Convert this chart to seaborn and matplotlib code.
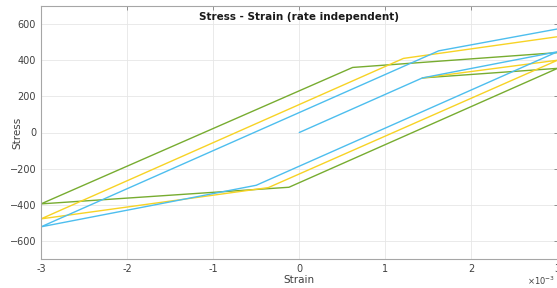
import numpy as np
import pandas as pd
import matplotlib
matplotlib.use("Agg")
import matplotlib.pyplot as plt
import seaborn as sns
from matplotlib.ticker import FuncFormatter

# Data (strain in absolute units, stress)
blue_strain = [0.0, 1.43e-3, 3.0e-3, -0.5e-3, -3.0e-3, 1.62e-3, 3.0e-3]
blue_stress = [0, 302, 447, -292, -522, 452, 573]
yellow_strain = [1.43e-3, 3.0e-3, -0.36e-3, -3.0e-3, 1.21e-3, 3.0e-3]
yellow_stress = [302, 400, -305, -478, 410, 530]
green_strain = [1.43e-3, 3.0e-3, -0.12e-3, -3.0e-3, 0.62e-3, 3.0e-3]
green_stress = [302, 355, -303, -395, 360, 442]

series_names = ["green", "yellow", "blue"]
colors = {"green": "#77AC30", "yellow": "#F7D325", "blue": "#4DBEEE"}

frames = []
for name, xs, ys in [("green", green_strain, green_stress),
                     ("yellow", yellow_strain, yellow_stress),
                     ("blue", blue_strain, blue_stress)]:
    frames.append(pd.DataFrame({"Strain": xs, "Stress": ys, "series": name,
                                "order": range(len(xs))}))
df = pd.concat(frames, ignore_index=True)

sns.set_style("white")
plt.rcParams['font.family'] = ['DejaVu Sans']

fig = plt.figure(figsize=(5.57, 2.88), dpi=100)
ax = fig.add_axes([41/557, 1-259/288, 1-41/557+0.001, (259-6)/288])

for name in series_names:
    sub = df[df.series == name]
    sns.lineplot(data=sub, x="Strain", y="Stress", sort=False, estimator=None,
                 color=colors[name], linewidth=1.0, ax=ax, legend=False)

ax.set_xlim(-3e-3, 3e-3)
ax.set_ylim(-700, 700)
ax.set_xticks(np.arange(-3, 4) * 1e-3)
ax.set_yticks([-600, -400, -200, 0, 200, 400, 600])
ax.xaxis.set_major_formatter(FuncFormatter(lambda v, p: f"{v*1e3:g}"))
fig.text(555/557, 1-281/288, r"$\times10^{-3}$", fontsize=6, color="#404040",
         ha="right", va="center")

ax.grid(True, color="#e6e6e6", linewidth=0.6)
ax.set_axisbelow(True)
for s in ax.spines.values():
    s.set_color("#a6a6a6")
    s.set_linewidth(0.8)
ax.tick_params(direction="in", length=3, width=0.6, color="#808080",
               labelsize=7, labelcolor="#404040", top=True, right=True)

ax.set_xlabel("Strain", fontsize=7.5, color="#404040")
ax.set_ylabel("Stress", fontsize=7.5, color="#404040")
ax.xaxis.set_label_coords(0.5, -0.083)
ax.yaxis.set_label_coords(-0.0465, 0.5)
ax.xaxis.label.set_va("center")
ax.yaxis.label.set_va("center")
ax.text(0.5, 0.955, "Stress - Strain (rate independent)", transform=ax.transAxes,
        ha="center", va="center", fontsize=7.5, fontweight="bold", color="#1a1a1a")

fig.savefig("out.png", dpi=100)
